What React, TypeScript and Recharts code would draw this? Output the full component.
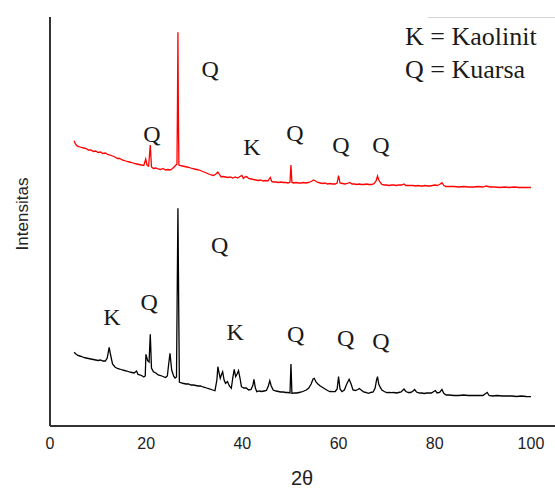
import React from 'react';
import { LineChart, Line, XAxis, YAxis, ReferenceDot } from 'recharts';

const xTicks = [0, 20, 40, 60, 80, 100];

const redTheta = [
  5.0, 5.3, 5.6, 6.0, 6.5, 7.0, 7.5, 8.0, 8.5, 9.0, 9.5, 10.0, 10.5, 11.0, 11.5, 12.0, 12.5, 13.0, 13.5, 14.0,
  14.5, 15.0, 15.5, 16.0, 16.5, 17.0, 17.5, 18.0, 18.5, 19.0, 19.5, 19.9, 20.2, 20.5, 20.85, 21.1, 21.5, 22.0, 22.5, 23.0,
  23.5, 24.0, 24.5, 25.0, 25.5, 26.0, 26.4, 26.5, 26.6, 26.7, 26.8, 27.0, 27.5, 28.0, 28.5, 29.0, 29.5, 30.0, 30.5, 31.0,
  31.5, 32.0, 32.5, 33.0, 33.5, 34.0, 34.5, 34.9, 35.3, 35.6, 36.0, 36.5, 37.0, 37.5, 38.0, 38.5, 39.0, 39.5, 39.9, 40.2,
  40.5, 40.9, 41.3, 41.8, 42.3, 42.8, 43.3, 43.8, 44.3, 44.8, 45.3, 45.8, 46.1, 46.5, 47.0, 47.5, 48.0, 48.5, 49.0, 49.5,
  49.9, 50.1, 50.3, 50.7, 51.2, 51.7, 52.2, 52.7, 53.2, 53.7, 54.3, 54.8, 55.2, 55.7, 56.2, 56.7, 57.2, 57.7, 58.2, 58.7,
  59.3, 59.7, 60.0, 60.3, 60.8, 61.3, 61.8, 62.3, 62.8, 63.3, 63.8, 64.3, 64.8, 65.3, 65.8, 66.3, 66.8, 67.3, 67.8, 68.1,
  68.35, 68.6, 69.0, 69.5, 70.0, 70.5, 71.0, 71.5, 72.0, 72.5, 73.1, 73.6, 74.0, 74.5, 75.0, 75.5, 76.0, 76.5, 77.0, 77.5,
  78.0, 78.5, 79.0, 79.5, 80.0, 80.5, 81.0, 81.5, 81.9, 82.3, 83.0, 84.0, 85.0, 86.0, 87.0, 88.0, 89.0, 90.0, 90.7, 91.5,
  92.5, 93.5, 94.5, 95.5, 96.5, 97.5, 98.5, 99.5, 100.0,
];
const redIntensity = [
  285.3, 282, 280, 279.5, 278.5, 278, 277.5, 276, 276, 274.5, 275, 273.5, 274, 272.5, 273, 271.5, 271, 270, 269, 267.5,
  267.5, 266, 265.5, 264.5, 264, 263.5, 262.5, 262, 261.5, 261, 260.5, 267, 260.5, 260, 281, 259, 257.5, 258, 257, 256.5,
  257.5, 256, 256.5, 256, 257.5, 260, 262, 319, 393.7, 306, 261, 260.5, 260, 259.5, 259, 258.5, 257.5, 257, 256.5, 256,
  255, 254, 253, 252, 251, 250.5, 252, 254, 251, 249, 249.5, 249, 248.5, 249, 248, 249, 248, 249.5, 250.5, 247.5,
  249, 249.5, 247.5, 247, 246.5, 246, 245.5, 246, 245, 245.5, 245, 248.5, 244.5, 244, 244, 243.5, 244, 243.5, 243.5, 243,
  244, 261, 243.5, 243, 243.5, 243, 243, 243.5, 243, 243.5, 244.5, 246, 245, 243.5, 243, 242.5, 243, 242, 242.5, 242,
  242, 243, 250.5, 243, 242.5, 242, 242.5, 243.5, 242, 242, 241.5, 242, 241.5, 241.5, 242, 241.5, 241.5, 242, 245, 250,
  246, 244, 241.5, 241, 241, 240.5, 241, 241, 240.5, 241, 241, 242, 240.5, 240.5, 240.5, 240.5, 240, 240.5, 240, 240,
  240.5, 240, 240, 240.5, 241, 240.5, 241.5, 243.3, 240.5, 239.5, 239.5, 239.5, 239, 239.5, 239, 239, 239.5, 239, 240, 239,
  239, 238.5, 239, 238.5, 239, 238.5, 238.5, 238.5, 238.5,
];

const blackTheta = [
  5.0, 5.4, 5.8, 6.2, 6.6, 7.0, 7.5, 8.0, 8.5, 9.0, 9.5, 10.0, 10.5, 11.0, 11.5, 11.9, 12.3, 12.6, 13.0, 13.5,
  14.0, 14.5, 15.0, 15.5, 16.0, 16.5, 17.0, 17.5, 18.0, 18.3, 18.8, 19.2, 19.5, 19.8, 19.95, 20.3, 20.6, 20.85, 21.1, 21.5,
  22.0, 22.5, 23.0, 23.5, 24.0, 24.4, 24.7, 24.95, 25.3, 25.7, 26.0, 26.3, 26.45, 26.6, 26.75, 26.9, 27.3, 27.8, 28.3, 28.8,
  29.3, 29.8, 30.3, 30.8, 31.3, 31.8, 32.3, 32.8, 33.3, 33.8, 34.3, 34.7, 34.9, 35.2, 35.4, 35.7, 35.9, 36.2, 36.5, 36.9,
  37.3, 37.7, 38.0, 38.3, 38.6, 38.9, 39.2, 39.5, 39.8, 40.3, 40.8, 41.3, 41.8, 42.2, 42.4, 42.7, 43.0, 43.5, 44.0, 44.5,
  45.0, 45.4, 45.7, 46.0, 46.4, 47.0, 47.5, 48.0, 48.5, 49.0, 49.5, 49.9, 50.1, 50.3, 50.8, 51.3, 51.8, 52.3, 52.8, 53.3,
  53.8, 54.3, 54.7, 54.95, 55.3, 55.7, 56.2, 56.7, 57.2, 57.7, 58.2, 58.7, 59.3, 59.7, 60.0, 60.3, 60.7, 61.2, 61.7, 62.2,
  62.6, 63.0, 63.5, 64.0, 64.3, 64.7, 65.2, 65.7, 66.2, 66.7, 67.2, 67.6, 67.9, 68.1, 68.35, 68.6, 69.0, 69.5, 70.0, 70.5,
  71.0, 71.5, 72.0, 72.5, 73.0, 73.6, 74.0, 74.5, 75.0, 75.5, 75.8, 76.2, 76.8, 77.3, 77.8, 78.3, 78.8, 79.3, 79.8, 80.1,
  80.5, 81.0, 81.5, 81.9, 82.4, 83.0, 84.0, 85.0, 86.0, 87.0, 88.0, 89.0, 90.0, 90.6, 90.9, 91.3, 92.0, 93.0, 94.0, 95.0,
  96.0, 97.0, 98.0, 99.0, 100.0,
];
const blackIntensity = [
  73.7, 72, 70.5, 70, 69.5, 68.5, 68, 67.5, 67, 66.5, 66, 65.5, 66, 65, 65, 68, 78.7, 71, 62, 59,
  57.5, 57, 56, 55.5, 55, 54, 53.5, 53, 55, 51.5, 51, 50, 49, 50, 71.7, 65.3, 64, 91.7, 58, 54.3,
  53, 51, 50.5, 49.5, 48.5, 50, 63, 72.7, 56, 50, 48, 49, 134.3, 217.7, 126, 44, 43, 42.5, 42, 42,
  41, 41, 40.5, 40, 40, 39, 38.5, 37.5, 37, 36, 35.3, 46, 59.3, 52, 47.7, 52, 54.3, 46, 42.7, 44.5,
  40, 37.7, 48, 56.7, 49.3, 52, 55.3, 48, 39.3, 38, 38, 36, 36.5, 41, 46.7, 38, 34.3, 35, 34.5, 35,
  35.5, 40, 45.3, 40, 36, 35, 34.5, 34, 34, 33.5, 33.5, 33, 62, 32.7, 33, 33, 33.5, 34, 35, 36,
  38, 42, 47, 47.7, 44, 42, 40, 38.5, 37, 35.5, 34.5, 34.3, 34.5, 37, 49.3, 37, 34.3, 36, 42, 46.7,
  42, 36, 35.5, 36.5, 37.5, 36, 34, 33.5, 32.7, 33.5, 34, 38, 46, 49.3, 42, 39.3, 36, 34.5, 33.3, 33.5,
  33.3, 33.5, 33, 33.5, 34, 37, 34.5, 33.5, 33.5, 35, 36.5, 34, 33, 33, 32.5, 33, 33, 33, 34.5, 35.3,
  33, 33.5, 36.5, 32.5, 31, 31, 30.5, 30.5, 31, 30.5, 30.5, 30.5, 30.5, 32.5, 33.5, 30.5, 30, 30.5, 30, 30,
  30, 29.5, 30, 29.5, 29.3,
];

const redPeakLabels = ['Q', 'Q', 'K', 'Q', 'Q', 'Q'];
const redLabelTheta = [33.3, 21.2, 42.0, 50.9, 60.5, 68.8];
const redLabelIntensity = [349, 284, 271, 285, 273, 273];

const blackPeakLabels = ['Q', 'K', 'Q', 'K', 'Q', 'Q', 'Q'];
const blackLabelTheta = [35.3, 12.9, 20.6, 38.5, 51.1, 61.5, 68.8];
const blackLabelIntensity = [173, 101, 116, 86, 84, 80, 77];

const legendLines = ['K = Kaolinit', 'Q = Kuarsa'];
const xTitle = '2θ';
const yTitle = 'Intensitas';

const redData = redTheta.map((x, i) => ({ x, y: redIntensity[i] }));
const blackData = blackTheta.map((x, i) => ({ x, y: blackIntensity[i] }));
const peakLabels = [
  ...redPeakLabels.map((t, i) => ({ t, x: redLabelTheta[i], y: redLabelIntensity[i] })),
  ...blackPeakLabels.map((t, i) => ({ t, x: blackLabelTheta[i], y: blackLabelIntensity[i] })),
];

const serif = "'Liberation Serif', 'Times New Roman', serif";
const sans = "'Liberation Sans', Arial, sans-serif";

export default function App() {
  return (
    <div style={{ position: 'absolute', left: 0, top: 0, width: 555, height: 488, background: '#fff' }}>
      <LineChart width={555} height={488} margin={{ top: 17, right: 0, bottom: 0, left: 40 }}>
        <XAxis
          type="number"
          dataKey="x"
          domain={[0, 105]}
          ticks={xTicks}
          allowDataOverflow
          tickLine={false}
          tickSize={0}
          tickMargin={12}
          height={62}
          axisLine={{ stroke: '#333', strokeWidth: 2 }}
          tick={{ fill: '#222', fontSize: 16, fontFamily: sans }}
        />
        <YAxis
          type="number"
          domain={[0, 409]}
          width={10}
          tick={false}
          tickLine={false}
          axisLine={{ stroke: '#333', strokeWidth: 2 }}
        />
        <Line data={redData} dataKey="y" type="linear" stroke="#ff0000" strokeWidth={1.3} dot={false} isAnimationActive={false} />
        <Line data={blackData} dataKey="y" type="linear" stroke="#000000" strokeWidth={1.3} dot={false} isAnimationActive={false} />
        {peakLabels.map((p, i) => (
          <ReferenceDot
            key={i}
            x={p.x}
            y={p.y}
            r={0}
            ifOverflow="visible"
            shape={(props: any) => (
              <text x={props.cx} y={props.cy} textAnchor="middle" fontFamily={serif} fontSize={24} fill="#1a1a1a">
                {p.t}
              </text>
            )}
          />
        ))}
      </LineChart>
      <svg width={555} height={488} style={{ position: 'absolute', left: 0, top: 0, pointerEvents: 'none' }}>
        <line x1={428} y1={17.5} x2={555} y2={17.5} stroke="#d4d4d4" strokeWidth={1} />
        {legendLines.map((t, i) => (
          <text key={t} x={405} y={45 + i * 33} fontFamily={serif} fontSize={26} fill="#1a1a1a">
            {t}
          </text>
        ))}
        <text x={302} y={485} textAnchor="middle" fontFamily={sans} fontSize={20} fill="#222">
          {xTitle}
        </text>
        <text
          x={0}
          y={0}
          transform="translate(28,214) rotate(-90)"
          textAnchor="middle"
          fontFamily={sans}
          fontSize={17}
          fill="#222"
        >
          {yTitle}
        </text>
      </svg>
    </div>
  );
}
